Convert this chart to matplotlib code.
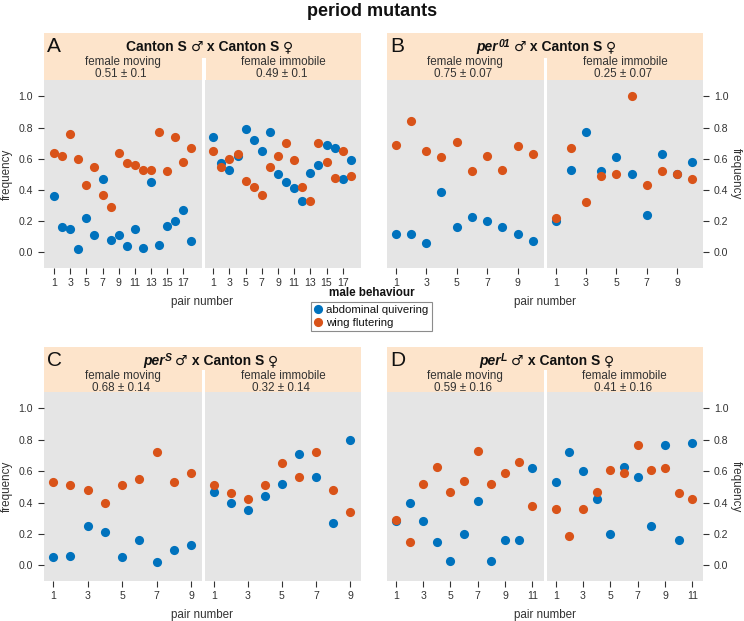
import matplotlib
matplotlib.use("Agg")
import matplotlib.pyplot as plt
from matplotlib.patches import Rectangle
from matplotlib.lines import Line2D

plt.rcParams['font.family'] = ['Liberation Sans', 'DejaVu Sans']

# ---------------- data ----------------
A_mov_abd = [0.36, 0.16, 0.15, 0.02, 0.22, 0.11, 0.47, 0.08, 0.11, 0.04, 0.15, 0.03, 0.45, 0.05, 0.17, 0.20, 0.27, 0.07]
A_mov_wing = [0.64, 0.62, 0.76, 0.60, 0.43, 0.55, 0.37, 0.29, 0.64, 0.57, 0.56, 0.53, 0.53, 0.77, 0.52, 0.74, 0.58, 0.67]
A_imm_abd = [0.74, 0.57, 0.53, 0.62, 0.79, 0.72, 0.65, 0.77, 0.50, 0.45, 0.41, 0.33, 0.51, 0.56, 0.69, 0.67, 0.47, 0.59]
A_imm_wing = [0.65, 0.55, 0.60, 0.63, 0.46, 0.42, 0.37, 0.55, 0.62, 0.70, 0.59, 0.42, 0.33, 0.70, 0.58, 0.48, 0.65, 0.49]

B_mov_abd = [0.12, 0.12, 0.06, 0.39, 0.16, 0.23, 0.20, 0.16, 0.12, 0.07]
B_mov_wing = [0.69, 0.84, 0.65, 0.61, 0.71, 0.52, 0.62, 0.53, 0.68, 0.63]
B_imm_abd = [0.20, 0.53, 0.77, 0.52, 0.61, 0.50, 0.24, 0.63, 0.50, 0.58]
B_imm_wing = [0.22, 0.67, 0.32, 0.49, 0.50, 1.00, 0.43, 0.52, 0.50, 0.47]

C_mov_abd = [0.05, 0.06, 0.25, 0.21, 0.05, 0.16, 0.02, 0.10, 0.13]
C_mov_wing = [0.53, 0.51, 0.48, 0.40, 0.51, 0.55, 0.72, 0.53, 0.59]
C_imm_abd = [0.47, 0.40, 0.35, 0.44, 0.52, 0.71, 0.56, 0.27, 0.80]
C_imm_wing = [0.51, 0.46, 0.42, 0.51, 0.65, 0.56, 0.72, 0.48, 0.34]

D_mov_abd = [0.28, 0.40, 0.28, 0.15, 0.03, 0.20, 0.41, 0.03, 0.16, 0.16, 0.62]
D_mov_wing = [0.29, 0.15, 0.52, 0.63, 0.47, 0.54, 0.73, 0.52, 0.59, 0.66, 0.38]
D_imm_abd = [0.53, 0.72, 0.60, 0.42, 0.20, 0.63, 0.56, 0.25, 0.77, 0.16, 0.78]
D_imm_wing = [0.36, 0.19, 0.36, 0.47, 0.61, 0.59, 0.77, 0.61, 0.62, 0.46, 0.42]

panel_letters = ["A", "B", "C", "D"]
male_strain = ["Canton S", "per", "per", "per"]
male_superscript = ["", "01", "S", "L"]
mov_labels = ["0.51 ± 0.1", "0.75 ± 0.07", "0.68 ± 0.14", "0.59 ± 0.16"]
imm_labels = ["0.49 ± 0.1", "0.25 ± 0.07", "0.32 ± 0.14", "0.41 ± 0.16"]
series_labels = ["abdominal quivering", "wing flutering"]
yticks = [0.0, 0.2, 0.4, 0.6, 0.8, 1.0]

data = {
    "A": (A_mov_abd, A_mov_wing, A_imm_abd, A_imm_wing),
    "B": (B_mov_abd, B_mov_wing, B_imm_abd, B_imm_wing),
    "C": (C_mov_abd, C_mov_wing, C_imm_abd, C_imm_wing),
    "D": (D_mov_abd, D_mov_wing, D_imm_abd, D_imm_wing),
}

# ---------------- layout (pixels) ----------------
W, H = 744, 621
BLUE = "#0072BD"
ORANGE = "#D95319"
PEACH = "#FDE4CB"
GRAY = "#E5E5E5"
TXT = "#333333"

layout = {
    "A": dict(ht=33, gt=80, bot=268, x0=44, g0=202, g1=205.5, x1=361, lt=58,
              xl=(-0.24, 19.3), xr=(0.04, 19.26), side="left", tcx=209.5),
    "B": dict(ht=33, gt=80, bot=268, x0=387, g0=543.5, g1=547, x1=703, lt=58,
              xl=(0.43, 10.69), xr=(0.43, 10.71), side="right", tcx=546.5),
    "C": dict(ht=347, gt=392, bot=581, x0=44, g0=202.3, g1=205.3, x1=361, lt=370,
              xl=(0.46, 9.66), xr=(0.51, 9.64), side="left", tcx=210.5),
    "D": dict(ht=347, gt=392, bot=581, x0=387, g0=543.7, g1=546.5, x1=703, lt=370,
              xl=(0.34, 11.84), xr=(0.33, 11.78), side="right", tcx=546.5),
}

fig = plt.figure(figsize=(W / 100, H / 100), dpi=100)


def fx(x):
    return x / W


def fy(y):
    return 1 - y / H


def style_axes(ax, n, xlim, yside):
    ax.set_facecolor(GRAY)
    for s in ax.spines.values():
        s.set_visible(False)
    ax.set_xlim(*xlim)
    ax.set_ylim(-0.1, 1.105)
    ax.set_xticks(list(range(1, n + 1, 2)))
    ax.tick_params(axis="x", direction="out", length=4, width=0.8, color=TXT,
                   labelsize=7.6, labelcolor=TXT, pad=3.5)
    if yside is None:
        ax.set_yticks([])
    else:
        ax.set_yticks(yticks)
        ax.set_yticklabels([f"{v:.1f}" for v in yticks])
        ax.tick_params(axis="y", direction="out", length=4.3, width=0.8, color=TXT,
                       labelsize=7.6, labelcolor=TXT, pad=3.5)
        if yside == "right":
            ax.yaxis.tick_right()


renderer = fig.canvas.get_renderer()


def rich_text(pieces, cx, y_base):
    objs = []
    widths = []
    for s, kw, dy in pieces:
        t = fig.text(0, 0, s, ha="left", va="baseline", **kw)
        w = t.get_window_extent(renderer).width
        objs.append((t, dy))
        widths.append(w)
    total = sum(widths)
    x = cx - total / 2
    for (t, dy), w in zip(objs, widths):
        t.set_position((fx(x), fy(y_base - dy)))
        x += w


for i, key in enumerate(["A", "B", "C", "D"]):
    L = layout[key]
    mov_abd, mov_wing, imm_abd, imm_wing = data[key]
    n = len(mov_abd)

    # header strip
    fig.add_artist(Rectangle((fx(L["x0"]), fy(L["gt"])), (L["x1"] - L["x0"]) / W,
                             (L["gt"] - L["ht"]) / H, transform=fig.transFigure,
                             facecolor=PEACH, edgecolor="none", zorder=0))
    fig.add_artist(Rectangle((fx(L["g0"]), fy(L["gt"])), (L["g1"] - L["g0"]) / W,
                             (L["gt"] - L["lt"]) / H, transform=fig.transFigure,
                             facecolor="white", edgecolor="none", zorder=1))

    axl = fig.add_axes([fx(L["x0"]), fy(L["bot"]), (L["g0"] - L["x0"]) / W,
                        (L["bot"] - L["gt"]) / H])
    axr = fig.add_axes([fx(L["g1"]), fy(L["bot"]), (L["x1"] - L["g1"]) / W,
                        (L["bot"] - L["gt"]) / H])
    xs = list(range(1, n + 1))
    for ax, abd, wing in ((axl, mov_abd, mov_wing), (axr, imm_abd, imm_wing)):
        ax.plot(xs, abd, "o", color=BLUE, ms=6.6, mec="none", clip_on=False, zorder=3)
        ax.plot(xs, wing, "o", color=ORANGE, ms=6.6, mec="none", clip_on=False, zorder=4)
    if L["side"] == "left":
        style_axes(axl, n, L["xl"], "left")
        style_axes(axr, n, L["xr"], None)
        fig.text(fx(7), fy((L["gt"] + L["bot"]) / 2), "frequency", rotation=90,
                 ha="center", va="center", fontsize=8.4, color=TXT)
    else:
        style_axes(axl, n, L["xl"], None)
        style_axes(axr, n, L["xr"], "right")
        fig.text(fx(736), fy((L["gt"] + L["bot"]) / 2), "frequency", rotation=270,
                 ha="center", va="center", fontsize=8.4, color=TXT)

    # panel letter
    fig.text(fx(L["x0"] + 3), fy(L["ht"] + 13), panel_letters[i], fontsize=15,
             ha="left", va="center", color="#111111")

    # title
    bold = dict(fontsize=10, fontweight="bold", color="#111111")
    bi = dict(fontsize=10, fontweight="bold", fontstyle="italic", color="#111111")
    sup = dict(fontsize=7.5, fontweight="bold", fontstyle="italic", color="#111111")
    sym = dict(fontsize=10, fontweight="normal", color="#111111", family="DejaVu Sans")
    yb = L["ht"] + 18
    if male_superscript[i]:
        pieces = [(male_strain[i], bi, 0), (male_superscript[i], sup, 4),
                  (" ", bold, 0), ("♂", sym, 0), (" x Canton S ", bold, 0), ("♀", sym, 0)]
    else:
        pieces = [(male_strain[i] + " ", bold, 0), ("♂", sym, 0),
                  (" x Canton S ", bold, 0), ("♀", sym, 0)]
    rich_text(pieces, L["tcx"], yb)

    # sub headers
    cl = (L["x0"] + L["g0"]) / 2
    cr = (L["g1"] + L["x1"]) / 2
    for cx, lab1, lab2 in ((cl, "female moving", mov_labels[i]),
                           (cr, "female immobile", imm_labels[i])):
        fig.text(fx(cx), fy(L["ht"] + 29), lab1, ha="center", va="center",
                 fontsize=8.4, color=TXT)
        fig.text(fx(cx - 2), fy(L["ht"] + 41), lab2, ha="center", va="center",
                 fontsize=8.4, color=TXT)

    # x label
    fig.text(fx((L["x0"] + L["x1"]) / 2), fy(L["bot"] + 34), "pair number",
             ha="center", va="center", fontsize=8.4, color=TXT)

# main title
fig.text(fx(372), fy(12), "period mutants", ha="center", va="center",
         fontsize=13, fontweight="bold", color="#111111")

# legend
fig.text(fx(372), fy(293), "male behaviour", ha="center", va="center",
         fontsize=8.4, fontweight="bold", color="#111111")
handles = [Line2D([], [], marker="o", ls="", color=BLUE, ms=6.6, mec="none"),
           Line2D([], [], marker="o", ls="", color=ORANGE, ms=6.6, mec="none")]
leg = fig.legend(handles, series_labels, loc="upper left",
                 bbox_to_anchor=(fx(311), fy(302)), borderaxespad=0,
                 frameon=True, fancybox=False, edgecolor="#8c8c8c", framealpha=1,
                 fontsize=8.2, handlelength=0.7, handletextpad=0.35,
                 borderpad=0.3, labelspacing=0.2)
leg.get_frame().set_linewidth(0.8)
for t in leg.get_texts():
    t.set_color("#111111")

fig.savefig("out.png", dpi=100)
